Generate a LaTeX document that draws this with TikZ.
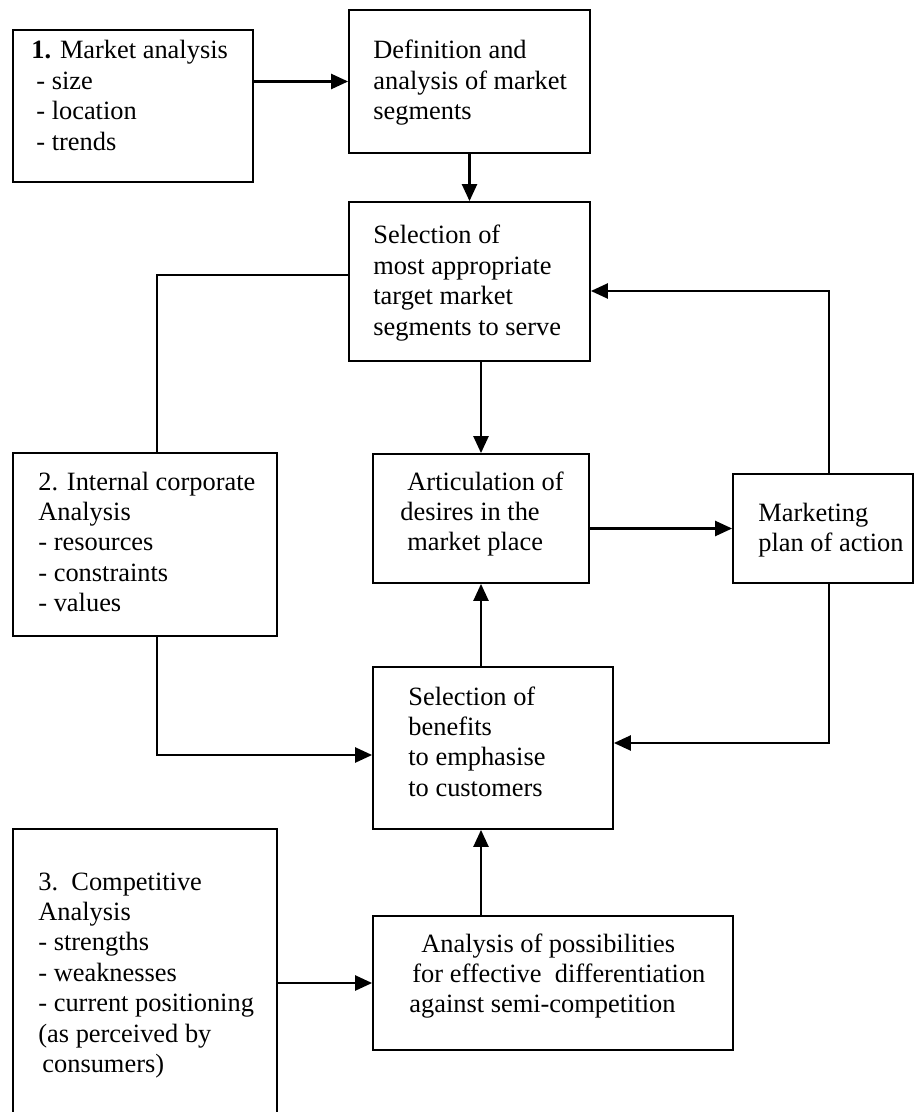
\documentclass[tikz,border=0pt]{standalone}
\usepackage{fontspec}
\setmainfont{Liberation Serif}
\usetikzlibrary{arrows.meta,fit}
\newcommand{\mylines}[1]{\begin{tabular}[t]{@{}l@{}}#1\end{tabular}}
\tikzset{
  boxnode/.style={draw, line width=0.9pt, inner sep=0pt},
  txt/.style={inner sep=0pt, anchor=base west, font=\fontsize{13.2}{15.2}\selectfont},
  arr/.style={line width=1.2pt, -{Triangle[length=8.5pt,width=7.5pt]}},
  plain/.style={line width=0.8pt}
}
\begin{document}
\begin{tikzpicture}[x=0.5pt,y=-0.5pt]
\fill[white] (0,0) rectangle (915,1112);
\useasboundingbox (0,0) rectangle (915,1112);
\clip (0,0) rectangle (915,1112);
% boxes
\node[boxnode, fit={(13,30) (253,182)}] (b1) {};
\node[boxnode, fit={(349,10) (590,153)}] (def) {};
\node[boxnode, fit={(349,202) (590,361)}] (sel) {};
\node[boxnode, fit={(13,453) (277,636)}] (b2) {};
\node[boxnode, fit={(373,454) (589,583)}] (art) {};
\node[boxnode, fit={(733,474) (913,583)}] (mkt) {};
\node[boxnode, fit={(373,667) (613,829)}] (ben) {};
\node[boxnode, fit={(13,829) (277,1130)}] (b3) {};
\node[boxnode, fit={(373,916) (733,1050)}] (ana) {};
% texts
\node[txt] at (31,59) {\mylines{\textbf{1.} Market analysis\\ \hspace{2.5pt}- size\\ \hspace{2.5pt}- location\\ \hspace{2.5pt}- trends}};
\node[txt] at (373,59) {\mylines{Definition and\\ analysis of market\\ segments}};
\node[txt] at (373,244) {\mylines{Selection of\\ most appropriate\\ target market\\ segments to serve}};
\node[txt] at (38,490) {\mylines{2. Internal corporate\\ Analysis\\ - resources\\ - constraints\\ - values}};
\node[txt] at (400,490) {\mylines{\hspace{3.5pt}Articulation of\\ desires in the\\ \hspace{3.5pt}market place}};
\node[txt] at (758,521) {\mylines{Marketing\\ plan of action}};
\node[txt] at (408,705) {\mylines{Selection of\\ benefits\\ to emphasise\\ to customers}};
\node[txt] at (38,890) {\mylines{3.\ \ Competitive\\ Analysis\\ - strengths\\ - weaknesses\\ - current positioning\\ (as perceived by\\ \hspace{2pt}consumers)}};
\node[txt] at (409,952) {\mylines{\hspace{6pt}Analysis of possibilities\\ \hspace{1.5pt}for effective\ \ differentiation\\ against semi-competition}};
% helper corners
\coordinate (c1) at (157,275);
\coordinate (c2) at (157,755);
\coordinate (c3) at (829,291);
\coordinate (c4) at (829,743);
% connectors
\draw[arr] (def.west -| b1.east) -- (def.west);
\draw[arr] (def.south) -- (sel.north);
\draw[arr] (sel.south -| art.north) -- (art.north);
\draw[plain] (sel.west |- c1) -- (c1) -- (c1 |- b2.north);
\draw[arr] (b2.south -| c2) -- (c2) -- (c2 -| ben.west);
\draw[arr] (mkt.west -| art.east) -- (mkt.west);
\draw[arr] (mkt.north -| c3) -- (c3) -- (c3 -| sel.east);
\draw[arr] (mkt.south -| c4) -- (c4) -- (c4 -| ben.east);
\draw[arr] (ben.north -| art.south) -- (art.south);
\draw[arr] (ana.north -| art.south) -- (ben.south -| art.south);
\draw[arr] (ana.west -| b3.east) -- (ana.west);
\end{tikzpicture}
\end{document}
